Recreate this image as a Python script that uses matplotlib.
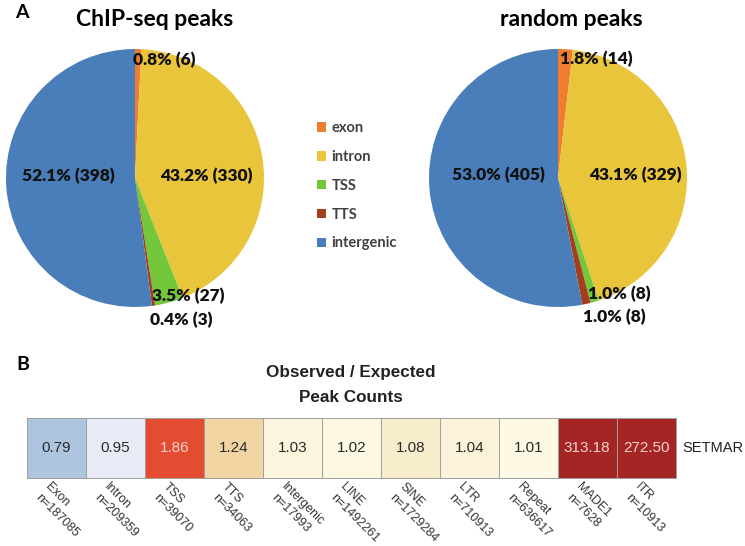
import numpy as np
import matplotlib
matplotlib.use("Agg")
import matplotlib.pyplot as plt
from matplotlib.colors import LinearSegmentedColormap, Normalize
from matplotlib.patches import Patch

# ---------------- data ----------------
pie_categories = ["exon", "intron", "TSS", "TTS", "intergenic"]
chip_counts = [6, 330, 27, 3, 398]
random_counts = [14, 329, 8, 8, 405]
pie_colors = ["#EE7D31", "#E9C53B", "#74C63A", "#A33F1E", "#4A7EBB"]

heat_categories = ["Exon", "Intron", "TSS", "TTS", "Intergenic", "LINE",
                   "SINE", "LTR", "Repeat", "MADE1", "ITR"]
heat_n = [187085, 209359, 39070, 34063, 17993, 1492261, 1729284, 710913,
          636617, 7628, 10913]
heat_values = [0.79, 0.95, 1.86, 1.24, 1.03, 1.02, 1.08, 1.04, 1.01,
               313.18, 272.50]
row_label = "SETMAR"

# label positions (pie-data units), layout only
chip_label_pos = [(0.225, 0.915), (0.55, 0.016), (0.41, -0.915),
                  (0.357, -1.10), (-0.52, 0.016)]
rand_label_pos = [(0.295, 0.922), (0.597, 0.023), (0.473, -0.90),
                  (0.434, -1.078), (-0.465, 0.023)]

W, H = 745, 546
fig = plt.figure(figsize=(W / 100, H / 100), dpi=100)
fig.patch.set_facecolor("white")

CAL = ["Lato", "DejaVu Sans"]
ARI = ["Liberation Sans", "DejaVu Sans"]


def px_axes(x0, y0, x1, y1):
    return fig.add_axes([x0 / W, 1 - y1 / H, (x1 - x0) / W, (y1 - y0) / H])


def draw_pie(ax, counts, label_pos):
    ax.pie(counts, colors=pie_colors, startangle=90, counterclock=False,
           radius=1, wedgeprops=dict(linewidth=0))
    ax.set_xlim(-1, 1)
    ax.set_ylim(-1, 1)
    total = sum(counts)
    for c, (x, y) in zip(counts, label_pos):
        ax.text(x, y, f"{c / total * 100:.1f}% ({c})", ha="center",
                va="center", fontsize=12.5, fontweight="heavy", family=CAL,
                color="#111111")


ax1 = px_axes(6, 49, 264, 307)
draw_pie(ax1, chip_counts, chip_label_pos)
ax2 = px_axes(429, 49, 687, 307)
draw_pie(ax2, random_counts, rand_label_pos)

fig.text(155 / W, 1 - 19 / H, "ChIP-seq peaks", ha="center", va="center",
         fontsize=16.5, fontweight="bold", family=CAL)
fig.text(571 / W, 1 - 19 / H, "random peaks", ha="center", va="center",
         fontsize=16.5, fontweight="bold", family=CAL)
fig.text(22 / W, 1 - 13 / H, "A", ha="center", va="center",
         fontsize=14, fontweight="bold", family=CAL)

handles = [Patch(facecolor=c, edgecolor="none") for c in pie_colors]
leg = fig.legend(handles, pie_categories, loc="upper left",
                 bbox_to_anchor=(317 / W, 1 - 121 / H), frameon=False,
                 handlelength=0.65, handleheight=0.65, handletextpad=0.35,
                 labelspacing=1.02, borderpad=0, borderaxespad=0,
                 prop=dict(family=CAL, weight="bold", size=10.5))
for t in leg.get_texts():
    t.set_color("#404040")

# ---------------- panel B ----------------
fig.text(23 / W, 1 - 365 / H, "B", ha="center", va="center",
         fontsize=14, fontweight="bold", family=CAL)
fig.text(351 / W, 1 - 372 / H, "Observed / Expected", ha="center",
         va="center", fontsize=12.3, fontweight="bold", family=ARI,
         color="#222222")
fig.text(351 / W, 1 - 397 / H, "Peak Counts", ha="center",
         va="center", fontsize=12.3, fontweight="bold", family=ARI,
         color="#222222")

cmap = LinearSegmentedColormap.from_list("oe", [
    (0.0, "#8FAFD8"), (0.08, "#AFC5DF"), (0.213, "#E9EBF6"),
    (0.25, "#FEFAE8"), (0.306, "#F7ECCB"), (0.405, "#F0D5A2"),
    (0.698, "#E44C32"), (0.85, "#A52525"), (1.0, "#A52525")])
norm = Normalize(vmin=-0.5, vmax=1.5, clip=True)

axh = px_axes(26.7, 418, 675.7, 478)
vals = np.array(heat_values, dtype=float)
mesh = axh.pcolormesh(np.log2(vals)[None, :], cmap=cmap, norm=norm,
                      edgecolors="#a0a0a0", linewidth=0.7)
mesh.set_clip_on(False)
axh.set_xlim(0, len(vals))
axh.set_ylim(0, 1)
axh.axis("off")
for i, v in enumerate(heat_values):
    col = "#F6D3CD" if v > 1.5 else "#2a2a2a"
    axh.text(i + 0.5, 0.5, f"{v:.2f}", ha="center", va="center",
             fontsize=11, family=ARI, color=col)
    axh.text(i + 0.42, -0.05, f"{heat_categories[i]}\nn={heat_n[i]}",
             ha="left", va="top", rotation=-45, rotation_mode="anchor",
             fontsize=9, family=ARI, color="#333333", linespacing=1.3,
             multialignment="left")
axh.text(1.01, 0.5, row_label, transform=axh.transAxes, ha="left",
         va="center", fontsize=10.5, family=ARI, color="#222222")

fig.savefig("out.png", dpi=100)
